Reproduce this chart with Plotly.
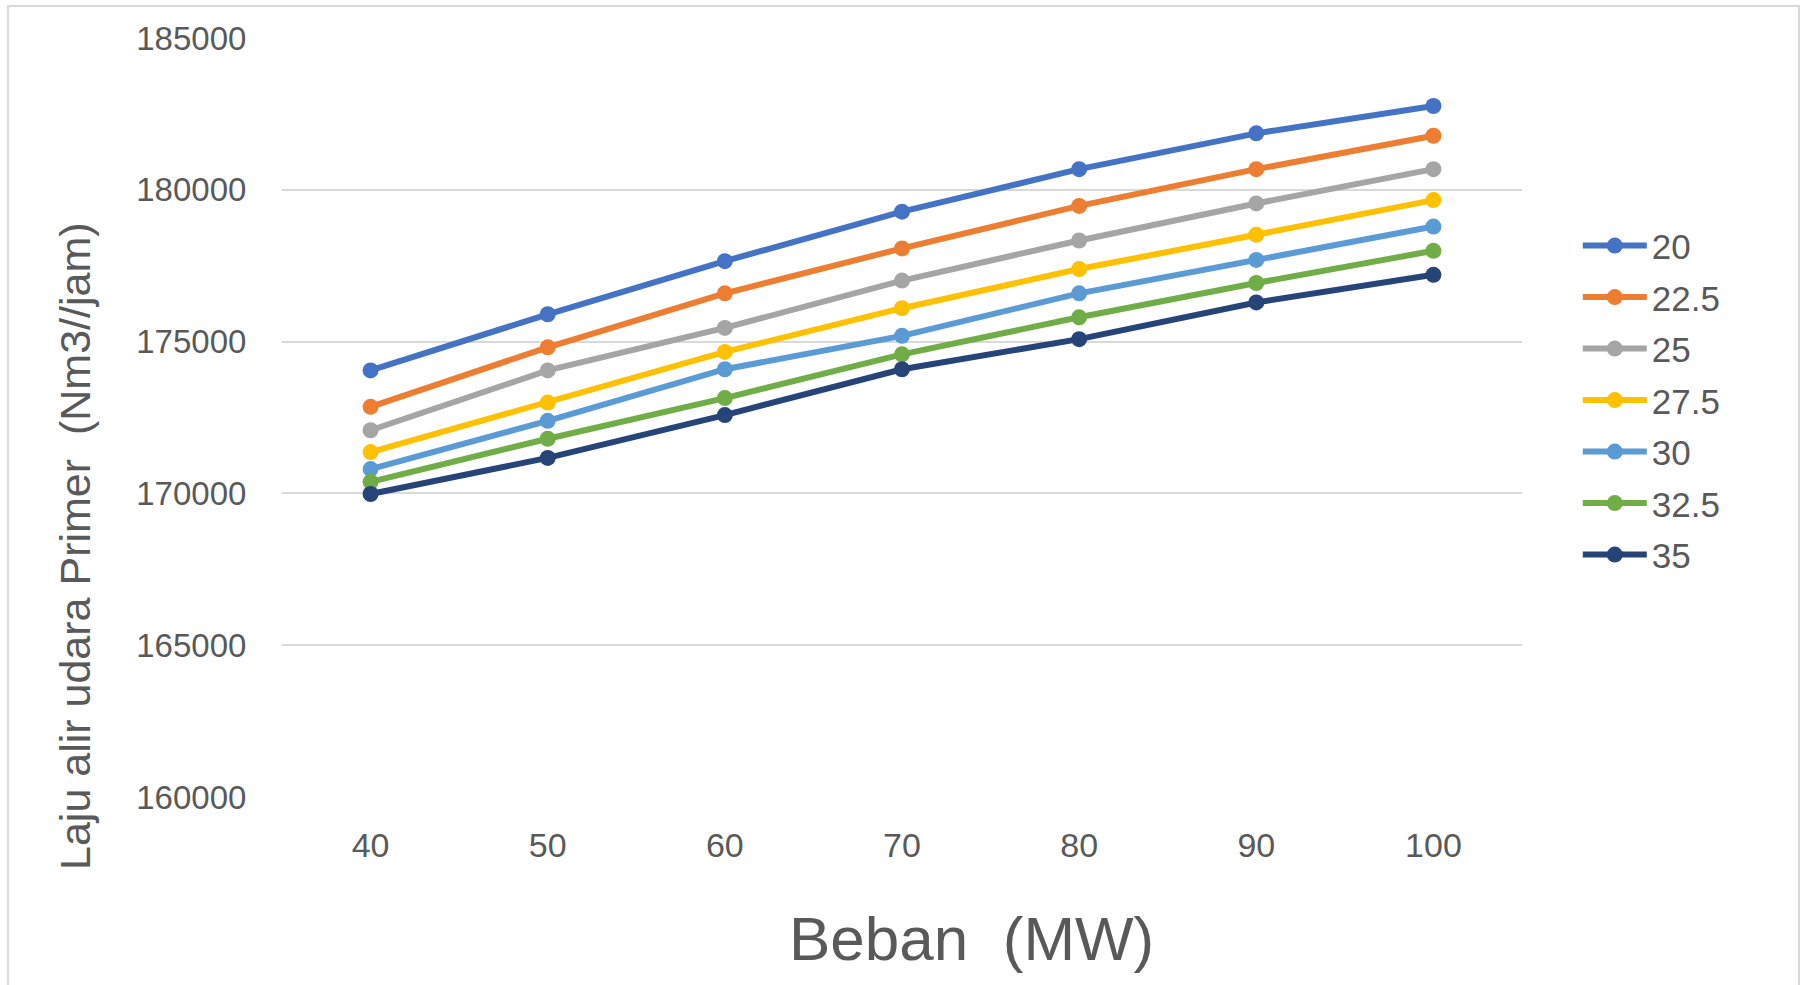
import plotly.graph_objects as go

beban = ["40", "50", "60", "70", "80", "90", "100"]
series_names = ["20", "22.5", "25", "27.5", "30", "32.5", "35"]
s20 = [174050, 175900, 177650, 179280, 180680, 181860, 182760]
s22_5 = [172850, 174810, 176590, 178070, 179470, 180680, 181780]
s25 = [172080, 174050, 175450, 177010, 178330, 179550, 180680]
s27_5 = [171360, 172990, 174660, 176100, 177390, 178520, 179660]
s30 = [170800, 172390, 174090, 175190, 176590, 177690, 178790]
s32_5 = [170380, 171800, 173140, 174580, 175800, 176930, 177990]
s35 = [169980, 171170, 172580, 174090, 175080, 176290, 177200]
colors = ["#4472C4", "#ED7D31", "#A5A5A5", "#FFC000", "#5B9BD5", "#70AD47", "#264478"]

all_series = [s20, s22_5, s25, s27_5, s30, s32_5, s35]

fig = go.Figure()
for name, vals, c in zip(series_names, all_series, colors):
    fig.add_trace(go.Scatter(
        x=beban, y=vals, name=name, mode="lines+markers",
        line=dict(color=c, width=6),
        marker=dict(color=c, size=16),
        legendgroup=name,
    ))

font_family = "Liberation Sans, Arial, sans-serif"
txt = "#595959"

fig.update_layout(
    width=1804, height=985,
    paper_bgcolor="white", plot_bgcolor="white",
    margin=dict(l=282, r=282, t=38, b=188),
    font=dict(family=font_family, color=txt),
    showlegend=True,
    legend=dict(
        x=1.045, y=0.765, xanchor="left", yanchor="top",
        font=dict(size=35, color=txt, family=font_family),
        tracegroupgap=3, itemwidth=64, bgcolor="rgba(0,0,0,0)",
    ),
    xaxis=dict(
        type="category", range=[-0.5, 6.5],
        showgrid=False, zeroline=False, showline=False,
        ticks="outside", ticklen=18, tickcolor="white",
        tickfont=dict(size=34, color=txt),
    ),
    yaxis=dict(
        range=[160000, 185000], dtick=5000, tick0=160000,
        tickformat="d",
        showgrid=True, gridcolor="#d9d9d9", gridwidth=2,
        zeroline=False, showline=False,
        ticks="outside", ticklen=28, tickcolor="white",
        tickfont=dict(size=33, color=txt),
    ),
    annotations=[
        dict(text="Beban  (MW)", xref="paper", yref="paper",
             x=(971 - 282) / 1240, y=-(938 - 797) / 759,
             xanchor="center", yanchor="middle", showarrow=False,
             font=dict(size=62, color=txt, family=font_family)),
        dict(text="Laju alir udara Primer  (Nm3//jam)", xref="paper", yref="paper",
             x=-(282 - 75) / 1240, y=1 - (546 - 38) / 759,
             xanchor="center", yanchor="middle", showarrow=False, textangle=-90,
             font=dict(size=43, color=txt, family=font_family)),
    ],
    shapes=[
        dict(type="rect", xref="paper", yref="paper",
             x0=(8 - 282) / 1240, x1=(1799 - 282) / 1240,
             y0=-(1000 - 797) / 759, y1=1 + (38 - 6) / 759,
             line=dict(color="#d9d9d9", width=2), fillcolor="rgba(0,0,0,0)",
             layer="below"),
    ],
)

fig.write_html("out.html", config={"displayModeBar": False},
               post_script="document.body.style.margin='0';")
